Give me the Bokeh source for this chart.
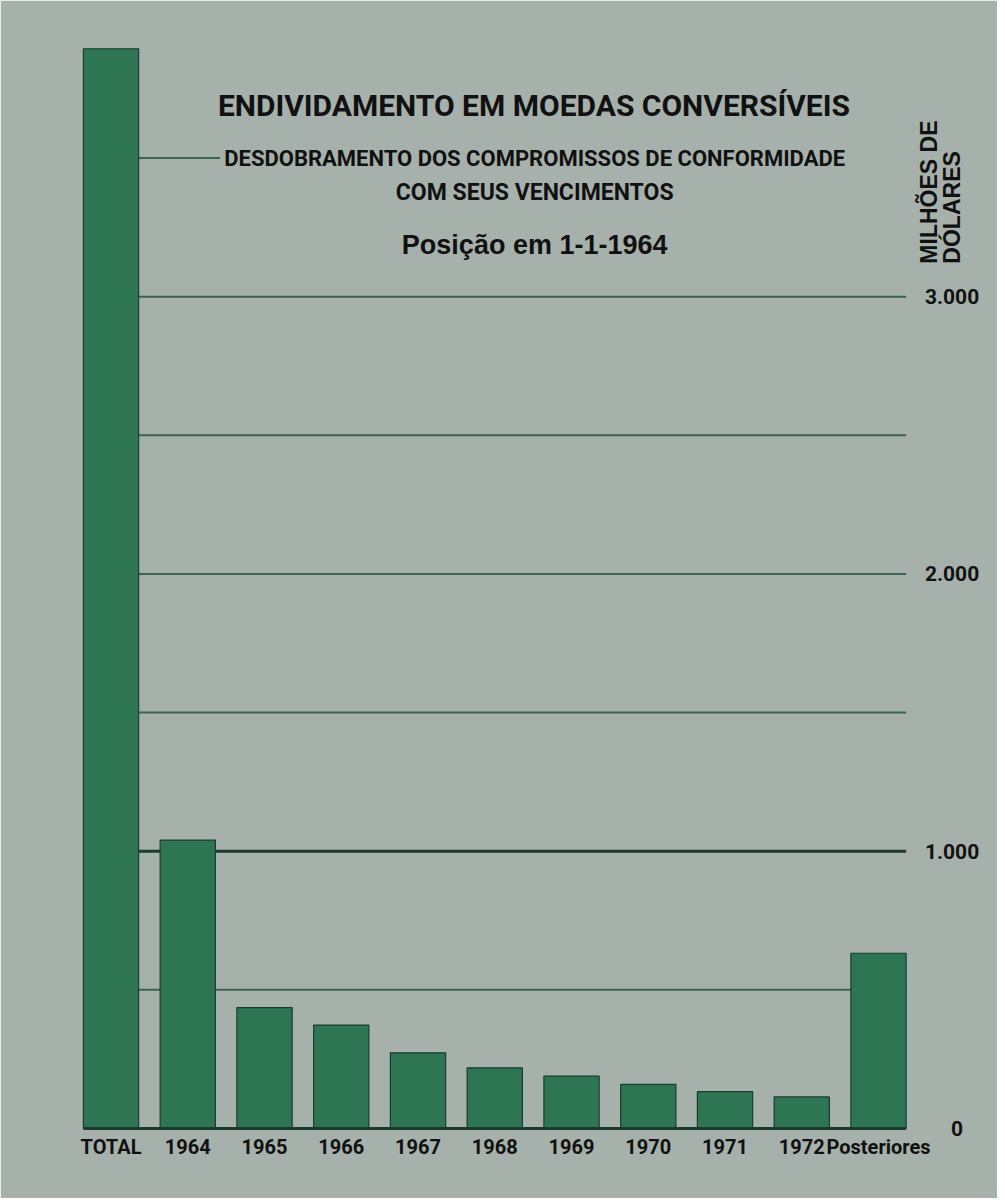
from bokeh.plotting import figure
from bokeh.models import Range1d, Label, LinearAxis, FixedTicker, ColumnDataSource
from bokeh.embed import file_html
from bokeh.resources import INLINE
import math

categories = ["TOTAL", "1964", "1965", "1966", "1967", "1968", "1969", "1970", "1971", "1972", "Posteriores"]
values = [3894, 1040, 436, 373, 273, 219, 189, 159, 133, 114, 632]
grid_levels = [500, 1000, 1500, 2000, 2500, 3000]
grid_dark = [False, True, False, False, False, False]
short_grid_level = 3500
y_ticks = [1000, 2000, 3000]
y_tick_labels = {1000: "1.000", 2000: "2.000", 3000: "3.000"}
zero_tick = 0

title_text = "ENDIVIDAMENTO EM MOEDAS CONVERSÍVEIS"
subtitle1 = "DESDOBRAMENTO DOS COMPROMISSOS DE CONFORMIDADE"
subtitle2 = "COM SEUS VENCIMENTOS"
subtitle3 = "Posição em 1-1-1964"
unit_line1 = "MILHÕES DE"
unit_line2 = "DÓLARES"

BG = "#a6b1ab"
BAR = "#2d7553"
DARK = "#1c3d2e"
GRID = "#3d6352"
NARROW = "Roboto"
BOLD = "Liberation Sans"
HALF = 0.36  # half bar width

xs = list(range(len(categories)))

p = figure(
    x_range=Range1d(-0.554, 11.459),
    y_range=Range1d(-252.4, 4003),
    frame_width=922, frame_height=1180,
    min_border_left=68, min_border_right=7, min_border_top=18, min_border_bottom=0,
    output_backend="svg", toolbar_location=None,
    x_axis_location=None, y_axis_location=None,
)
p.background_fill_color = BG
p.border_fill_color = BG
p.outline_line_color = BG
p.outline_line_width = 2
p.xgrid.visible = False
p.ygrid.visible = False

# gridlines (behind the bars)
gsrc = ColumnDataSource(dict(
    x0=[xs[0] + HALF] * len(grid_levels),
    x1=[xs[-1] + HALF] * len(grid_levels),
    y=grid_levels,
    color=[DARK if d else GRID for d in grid_dark],
    w=[3 if d else 2 for d in grid_dark],
))
p.segment(x0="x0", y0="y", x1="x1", y1="y", source=gsrc, line_color="color", line_width="w")
p.segment(x0=[xs[0] + HALF], y0=[short_grid_level], x1=[xs[1] + 0.42], y1=[short_grid_level],
          line_color=GRID, line_width=2)

src = ColumnDataSource(dict(x=xs, val=values))
p.vbar(x="x", top="val", width=2 * HALF, source=src, fill_color=BAR, line_color=DARK, line_width=1.2)
p.segment(x0=[xs[0] - HALF], y0=[0], x1=[xs[-1] + HALF], y1=[0], line_color=DARK, line_width=3)

# bottom axis with the category names, fixed at the zero line
xa = LinearAxis(ticker=FixedTicker(ticks=xs),
                major_label_overrides={i: c for i, c in zip(xs, categories)},
                fixed_location=0)
xa.axis_line_color = None
xa.major_tick_line_color = None
xa.minor_tick_line_color = None
xa.major_label_standoff = 0
xa.major_label_text_font = NARROW
xa.major_label_text_font_style = "bold"
xa.major_label_text_font_size = "20px"
xa.major_label_text_color = "#111111"
p.add_layout(xa, "below")

def right_axis(ticks, overrides, standoff, size, font=NARROW, orientation="horizontal"):
    ax = LinearAxis(ticker=FixedTicker(ticks=ticks), major_label_overrides=overrides,
                    fixed_location=xs[-1] + 0.5)
    ax.axis_line_color = None
    ax.major_tick_line_color = None
    ax.minor_tick_line_color = None
    ax.major_label_standoff = standoff
    ax.major_label_orientation = orientation
    ax.major_label_text_font = font
    ax.major_label_text_font_style = "bold"
    ax.major_label_text_font_size = size
    ax.major_label_text_color = "#111111"
    p.add_layout(ax, "right")

right_axis(y_ticks, y_tick_labels, 2, "21px")
right_axis([zero_tick], {zero_tick: "0"}, 28, "21px")
right_axis([3119], {3119: unit_line1}, 6, "23px", font=BOLD, orientation=math.pi / 2)
right_axis([3119], {3119: unit_line2}, 29, "23px", font=BOLD, orientation=math.pi / 2)

def lab(text, x, y, size, font=NARROW):
    p.add_layout(Label(x=x, y=y, text=text, text_font=font, text_font_style="bold",
                       text_font_size=size, text_color="#111111", text_align="center",
                       text_baseline="alphabetic"))

lab(title_text, 5.51, 3690, "30px")
lab(subtitle1, 5.52, 3499, "22px")
lab(subtitle2, 5.52, 3374, "23px")
lab(subtitle3, 5.52, 3185, "27px", font=BOLD)

open("out.html", "w").write(file_html(p, INLINE))
